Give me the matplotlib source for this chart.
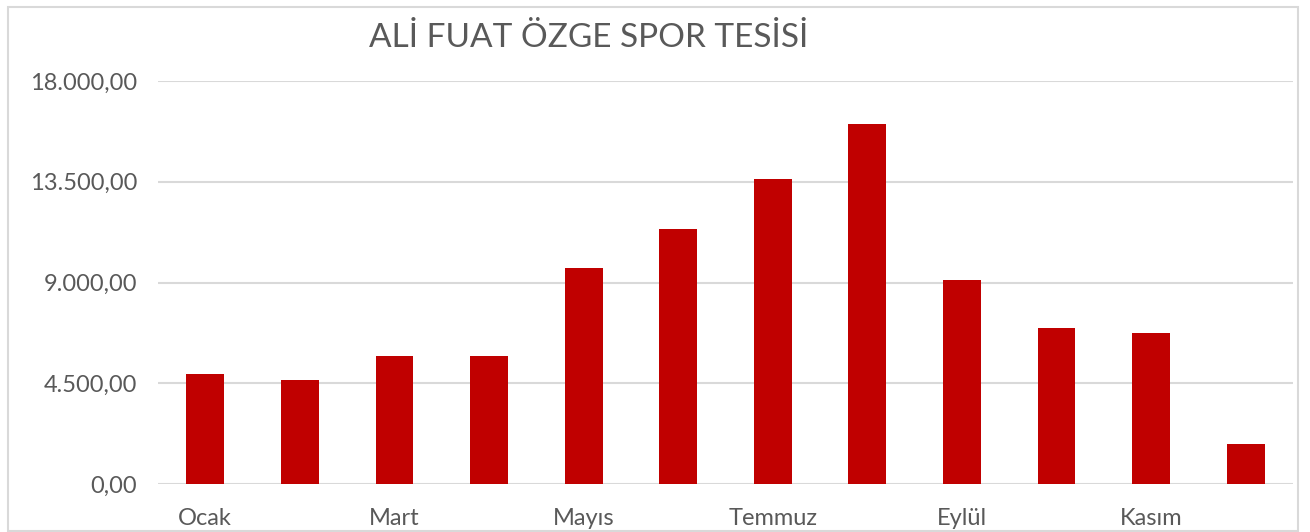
import matplotlib
matplotlib.use("Agg")
import matplotlib.pyplot as plt
from matplotlib.ticker import FuncFormatter
from matplotlib.patches import Rectangle

months = ["Ocak", "Şubat", "Mart", "Nisan", "Mayıs", "Haziran",
          "Temmuz", "Ağustos", "Eylül", "Ekim", "Kasım", "Aralık"]
values = [4910, 4640, 5705, 5720, 9655, 11405, 13635, 16100, 9135, 6970, 6760, 1795]
shown_labels = ["Ocak", "", "Mart", "", "Mayıs", "", "Temmuz", "", "Eylül", "", "Kasım", ""]
yticks = [0, 4500, 9000, 13500, 18000]
title = "ALİ FUAT ÖZGE SPOR TESİSİ"

plt.rcParams['font.family'] = ['Lato', 'DejaVu Sans']
TXT = "#595959"

fig = plt.figure(figsize=(13.10, 5.32), dpi=100)
ax = fig.add_axes([0.1206, 0.0897, 0.8664, 0.758])

x = list(range(len(months)))
ax.bar(x, values, width=0.4, color="#C00000", zorder=3)
ax.set_xlim(-0.5, len(months) - 0.5)
ax.set_ylim(0, 18000)
ax.set_yticks(yticks)

def fmt(v, pos):
    s = f"{v:,.2f}"
    return s.replace(",", "X").replace(".", ",").replace("X", ".")

ax.yaxis.set_major_formatter(FuncFormatter(fmt))
ax.set_xticks(x)
ax.set_xticklabels(shown_labels)
ax.grid(axis="y", color="#D9D9D9", linewidth=1.5, zorder=0)
for s in ["top", "right", "left", "bottom"]:
    ax.spines[s].set_visible(False)
ax.tick_params(axis="both", length=0, colors=TXT, labelsize=17)
ax.tick_params(axis="y", pad=15)
ax.tick_params(axis="x", pad=17)

fig.text(0.449, 0.929, title, ha="center", va="center", fontsize=24, color=TXT)

fig.patches.append(Rectangle((8 / 1310, 1.5 / 532), 1290 / 1310, 524 / 532,
                             transform=fig.transFigure, fill=False,
                             edgecolor="#D9D9D9", linewidth=1.5))

fig.savefig("out.png", dpi=100)
